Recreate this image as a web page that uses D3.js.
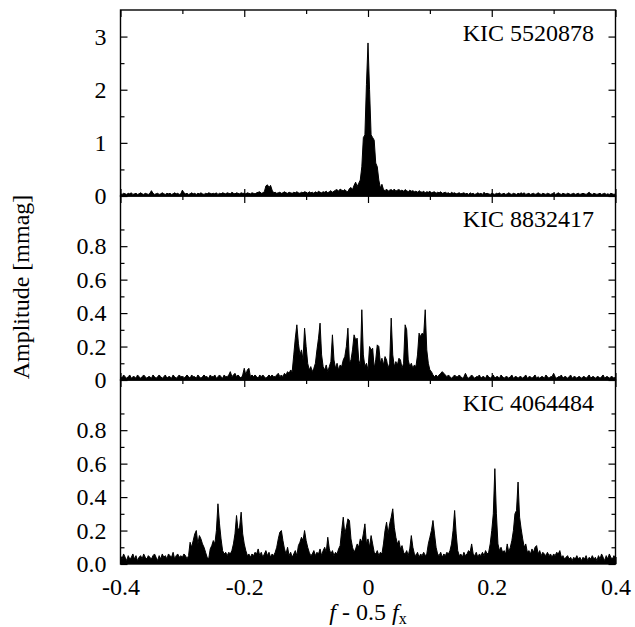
<!DOCTYPE html>
<html>
<head>
<meta charset="utf-8">
<script src="https://cdn.jsdelivr.net/npm/d3@7"></script>
<style>
    body { margin: 0; background: #fff; }
    svg text { font-family: "Liberation Serif", "Times New Roman", serif; }
</style>
</head>
<body>
<div id="chart"></div>
<script>

// Amplitude spectra sampled every 0.0025 from f - 0.5 fx = -0.4 to 0.4 (321 points each).
const freqMin  = -0.4;
const freqStep = 0.0025;

const starNames = ["KIC 5520878", "KIC 8832417", "KIC 4064484"];

const ampKic5520878 = [
    0.04,0.03,0.05,0.04,0.03,0.05,0.04,0.06,0.03,0.04,0.05,0.03,0.04,0.06,0.04,0.03,0.05,0.04,0.03,0.05,
    0.10,0.05,0.03,0.04,0.05,0.03,0.04,0.06,0.04,0.03,0.05,0.04,0.05,0.03,0.04,0.06,0.04,0.05,0.03,0.04,
    0.11,0.06,0.04,0.05,0.03,0.04,0.06,0.04,0.05,0.03,0.05,0.04,0.06,0.04,0.03,0.05,0.04,0.06,0.05,0.04,
    0.05,0.04,0.06,0.03,0.05,0.04,0.06,0.05,0.04,0.06,0.05,0.04,0.07,0.05,0.04,0.06,0.05,0.04,0.06,0.05,
    0.05,0.04,0.06,0.05,0.04,0.06,0.05,0.04,0.06,0.07,0.08,0.05,0.06,0.08,0.19,0.21,0.16,0.20,0.11,0.06,
    0.07,0.05,0.06,0.07,0.05,0.06,0.08,0.06,0.05,0.07,0.06,0.05,0.07,0.06,0.08,0.06,0.05,0.07,0.06,0.08,
    0.07,0.05,0.08,0.06,0.07,0.05,0.08,0.06,0.09,0.07,0.06,0.08,0.07,0.09,0.06,0.08,0.10,0.07,0.09,0.11,
    0.12,0.09,0.13,0.11,0.10,0.12,0.09,0.08,0.14,0.16,0.12,0.20,0.26,0.18,0.24,0.30,0.55,1.10,1.15,2.10,
    2.88,2.00,1.15,1.10,1.05,0.62,0.55,0.30,0.15,0.22,0.12,0.10,0.13,0.09,0.11,0.12,0.10,0.13,0.09,0.11,
    0.12,0.10,0.11,0.09,0.12,0.10,0.08,0.11,0.09,0.10,0.08,0.09,0.07,0.10,0.08,0.07,0.09,0.06,0.08,0.07,
    0.09,0.06,0.07,0.08,0.05,0.07,0.06,0.08,0.05,0.06,0.07,0.05,0.06,0.04,0.07,0.05,0.06,0.04,0.05,0.06,
    0.04,0.05,0.06,0.04,0.05,0.03,0.06,0.04,0.05,0.03,0.04,0.06,0.04,0.05,0.03,0.07,0.04,0.05,0.04,0.03,
    0.05,0.04,0.03,0.05,0.04,0.06,0.03,0.04,0.05,0.03,0.04,0.06,0.04,0.03,0.05,0.04,0.03,0.05,0.04,0.06,
    0.04,0.06,0.03,0.04,0.05,0.03,0.04,0.05,0.03,0.04,0.06,0.04,0.03,0.05,0.04,0.03,0.05,0.04,0.03,0.04,
    0.05,0.03,0.04,0.06,0.04,0.03,0.05,0.04,0.03,0.05,0.04,0.03,0.04,0.05,0.03,0.04,0.05,0.03,0.04,0.05,
    0.04,0.03,0.05,0.07,0.04,0.03,0.05,0.04,0.03,0.04,0.05,0.03,0.04,0.05,0.03,0.04,0.03,0.05,0.04,0.03,
    0.04
];

const ampKic8832417 = [
    0.02,0.01,0.03,0.02,0.01,0.02,0.03,0.01,0.02,0.02,0.01,0.03,0.02,0.01,0.02,0.03,0.02,0.01,0.02,0.02,
    0.01,0.03,0.02,0.01,0.02,0.03,0.02,0.01,0.02,0.03,0.01,0.02,0.02,0.01,0.03,0.02,0.01,0.02,0.03,0.02,
    0.02,0.01,0.02,0.03,0.02,0.01,0.03,0.02,0.02,0.01,0.03,0.02,0.01,0.02,0.03,0.02,0.02,0.01,0.03,0.02,
    0.02,0.03,0.01,0.02,0.03,0.02,0.01,0.03,0.02,0.02,0.03,0.05,0.02,0.03,0.04,0.02,0.03,0.02,0.01,0.03,
    0.07,0.03,0.06,0.07,0.02,0.03,0.02,0.03,0.02,0.01,0.03,0.02,0.03,0.02,0.01,0.02,0.03,0.02,0.03,0.02,
    0.02,0.03,0.04,0.02,0.03,0.02,0.04,0.03,0.05,0.04,0.06,0.05,0.15,0.25,0.33,0.22,0.15,0.18,0.12,0.31,
    0.20,0.10,0.06,0.08,0.05,0.07,0.10,0.18,0.25,0.34,0.15,0.08,0.06,0.09,0.05,0.08,0.11,0.27,0.12,0.07,
    0.10,0.06,0.09,0.08,0.12,0.14,0.20,0.31,0.10,0.12,0.18,0.27,0.24,0.25,0.12,0.09,0.42,0.15,0.08,0.10,
    0.06,0.20,0.18,0.19,0.07,0.12,0.21,0.20,0.10,0.13,0.09,0.14,0.12,0.07,0.10,0.37,0.15,0.08,0.11,0.09,
    0.13,0.12,0.07,0.10,0.33,0.30,0.12,0.08,0.10,0.07,0.09,0.08,0.15,0.28,0.26,0.28,0.27,0.42,0.18,0.10,
    0.06,0.05,0.03,0.02,0.03,0.02,0.03,0.04,0.05,0.04,0.03,0.02,0.03,0.02,0.01,0.02,0.03,0.02,0.02,0.03,
    0.02,0.01,0.02,0.04,0.02,0.01,0.02,0.03,0.02,0.01,0.02,0.02,0.03,0.01,0.02,0.02,0.01,0.03,0.02,0.01,
    0.02,0.03,0.01,0.02,0.02,0.01,0.03,0.02,0.01,0.02,0.02,0.01,0.02,0.03,0.01,0.02,0.02,0.01,0.02,0.02,
    0.01,0.02,0.03,0.01,0.02,0.02,0.01,0.02,0.03,0.01,0.02,0.01,0.02,0.02,0.01,0.03,0.02,0.01,0.02,0.02,
    0.04,0.02,0.01,0.02,0.02,0.03,0.01,0.02,0.02,0.01,0.02,0.03,0.01,0.02,0.02,0.01,0.02,0.02,0.01,0.02,
    0.02,0.01,0.02,0.03,0.01,0.02,0.02,0.01,0.02,0.02,0.01,0.02,0.03,0.01,0.02,0.02,0.01,0.02,0.02,0.01,
    0.02
];

const ampKic4064484 = [
    0.05,0.03,0.06,0.04,0.02,0.05,0.03,0.04,0.06,0.03,0.05,0.02,0.04,0.05,0.03,0.06,0.04,0.03,0.05,0.04,
    0.03,0.05,0.06,0.04,0.02,0.05,0.03,0.06,0.04,0.05,0.03,0.06,0.05,0.04,0.07,0.03,0.05,0.06,0.04,0.05,
    0.04,0.06,0.05,0.03,0.05,0.13,0.10,0.14,0.18,0.20,0.12,0.17,0.15,0.12,0.10,0.07,0.04,0.03,0.09,0.11,
    0.14,0.12,0.20,0.36,0.24,0.15,0.08,0.06,0.07,0.05,0.07,0.06,0.08,0.12,0.18,0.29,0.20,0.22,0.31,0.18,
    0.12,0.08,0.05,0.06,0.04,0.06,0.05,0.07,0.06,0.09,0.05,0.07,0.04,0.06,0.08,0.05,0.07,0.04,0.06,0.05,
    0.07,0.10,0.15,0.19,0.20,0.14,0.09,0.06,0.10,0.05,0.07,0.04,0.06,0.08,0.05,0.11,0.13,0.16,0.14,0.20,
    0.14,0.10,0.07,0.05,0.06,0.08,0.05,0.07,0.06,0.09,0.05,0.08,0.10,0.07,0.16,0.09,0.06,0.08,0.05,0.07,
    0.06,0.09,0.11,0.20,0.28,0.18,0.22,0.27,0.26,0.15,0.10,0.07,0.09,0.12,0.10,0.15,0.13,0.18,0.24,0.12,
    0.15,0.10,0.17,0.12,0.07,0.06,0.08,0.05,0.07,0.06,0.12,0.20,0.25,0.18,0.24,0.28,0.33,0.22,0.16,0.12,
    0.14,0.09,0.11,0.07,0.06,0.08,0.05,0.09,0.17,0.10,0.06,0.05,0.07,0.04,0.06,0.05,0.07,0.05,0.06,0.12,
    0.16,0.20,0.26,0.18,0.10,0.06,0.05,0.07,0.04,0.06,0.05,0.07,0.06,0.08,0.12,0.20,0.32,0.18,0.08,0.05,
    0.06,0.04,0.07,0.05,0.06,0.08,0.07,0.12,0.06,0.05,0.07,0.04,0.06,0.05,0.07,0.05,0.08,0.06,0.07,0.12,
    0.20,0.30,0.57,0.30,0.12,0.08,0.10,0.07,0.08,0.06,0.12,0.07,0.10,0.14,0.20,0.30,0.32,0.49,0.28,0.21,
    0.15,0.10,0.12,0.07,0.08,0.06,0.09,0.07,0.10,0.11,0.06,0.08,0.05,0.07,0.06,0.05,0.07,0.05,0.06,0.04,
    0.06,0.05,0.07,0.06,0.08,0.04,0.05,0.03,0.04,0.05,0.03,0.04,0.02,0.04,0.03,0.05,0.03,0.04,0.02,0.04,
    0.03,0.05,0.02,0.04,0.03,0.05,0.03,0.04,0.02,0.05,0.03,0.06,0.04,0.02,0.05,0.03,0.06,0.04,0.03,0.05,
    0.04
];

const spectra = [ampKic5520878, ampKic8832417, ampKic4064484];

// Axis ticks.
const xTicks       = [-0.4, -0.2, 0, 0.2, 0.4];
const xTickLabels  = ["-0.4", "-0.2", "0", "0.2", "0.4"];
const xMinorTicks  = [-0.3, -0.1, 0.1, 0.3];

const yDomains     = [[0, 3.5], [0, 1.1], [0, 1.1]];
const yTicks       = [[0, 1, 2, 3], [0, 0.2, 0.4, 0.6, 0.8], [0, 0.2, 0.4, 0.6, 0.8]];
const yTickLabels  = [["0", "1", "2", "3"],
                      ["0", "0.2", "0.4", "0.6", "0.8"],
                      ["0.0", "0.2", "0.4", "0.6", "0.8"]];
const yMinorTicks  = [[0.5, 1.5, 2.5], [0.1, 0.3, 0.5, 0.7, 0.9], [0.1, 0.3, 0.5, 0.7, 0.9]];

// Page layout.
const width = 635, height = 627;
const margin = {left: 120.5, right: 19.5};
const panelTops = [10, 196, 380];
const panelBottoms = [196, 380, 564];
const fontSize = 24;
const majorTick = 7, minorTick = 4;

let svg = d3.select("#chart")
    .append("svg")
        .attr("width", width)
        .attr("height", height);

let x = d3.scaleLinear()
    .domain([-0.4, 0.4])
    .range([margin.left, width - margin.right]);

let defs = svg.append("defs");

spectra.forEach((amps, p) => {
    let top = panelTops[p], bottom = panelBottoms[p];

    let y = d3.scaleLinear()
        .domain(yDomains[p])
        .range([bottom, top]);

    let freqs = amps.map((d, i) => freqMin + i * freqStep);

    // Clip the spectrum to the panel box.
    defs.append("clipPath")
        .attr("id", "clip" + p)
      .append("rect")
        .attr("x", margin.left)
        .attr("y", top)
        .attr("width", width - margin.right - margin.left)
        .attr("height", bottom - top);

    let g = svg.append("g").attr("clip-path", "url(#clip" + p + ")");

    let area = d3.area()
        .x((d, i) => x(freqs[i]))
        .y0(y(0))
        .y1(d => y(d));

    let line = d3.line()
        .x((d, i) => x(freqs[i]))
        .y(d => y(d));

    g.append("path")
        .attr("d", area(amps))
        .attr("fill", "#000");

    g.append("path")
        .attr("d", line(amps))
        .attr("fill", "none")
        .attr("stroke", "#000")
        .attr("stroke-width", 1);

    // Inward ticks on all four sides.
    let addAxis = (axis, transform, showLabels) => {
        let a = svg.append("g")
            .attr("transform", transform)
            .call(axis);
        a.attr("font-size", fontSize).attr("font-family", null);
        a.select(".domain").remove();
        a.selectAll(".tick line").attr("stroke", "#000").attr("stroke-width", 1.2);
        a.selectAll(".tick text").attr("fill", "#000");
        if (!showLabels) a.selectAll(".tick text").remove();
        return a;
    };

    let yFmt = d => yTickLabels[p][yTicks[p].indexOf(d)];

    addAxis(d3.axisLeft(y).tickValues(yTicks[p]).tickFormat(yFmt)
                .tickSize(-majorTick).tickPadding(14),
            "translate(" + margin.left + ",0)", true);
    addAxis(d3.axisLeft(y).tickValues(yMinorTicks[p]).tickSize(-minorTick),
            "translate(" + margin.left + ",0)", false);
    addAxis(d3.axisRight(y).tickValues(yTicks[p]).tickSize(-majorTick),
            "translate(" + (width - margin.right) + ",0)", false);
    addAxis(d3.axisRight(y).tickValues(yMinorTicks[p]).tickSize(-minorTick),
            "translate(" + (width - margin.right) + ",0)", false);

    let xFmt = d => xTickLabels[xTicks.indexOf(d)];

    addAxis(d3.axisTop(x).tickValues(xTicks).tickSize(-majorTick),
            "translate(0," + top + ")", false);
    addAxis(d3.axisTop(x).tickValues(xMinorTicks).tickSize(-minorTick),
            "translate(0," + top + ")", false);
    addAxis(d3.axisBottom(x).tickValues(xTicks).tickFormat(xFmt)
                .tickSize(-majorTick).tickPadding(14),
            "translate(0," + bottom + ")", p === spectra.length - 1);
    addAxis(d3.axisBottom(x).tickValues(xMinorTicks).tickSize(-minorTick),
            "translate(0," + bottom + ")", false);

    // Panel frame.
    svg.append("rect")
        .attr("x", margin.left)
        .attr("y", top)
        .attr("width", width - margin.right - margin.left)
        .attr("height", bottom - top)
        .attr("fill", "none")
        .attr("stroke", "#000")
        .attr("stroke-width", 1.4);

    // Star name.
    svg.append("text")
        .attr("x", 594)
        .attr("y", top + 31)
        .attr("text-anchor", "end")
        .attr("font-size", fontSize)
        .text(starNames[p]);
});

// Axis titles.
svg.append("text")
    .attr("transform", "translate(29," + (panelTops[0] + panelBottoms[2]) / 2 + ") rotate(-90)")
    .attr("text-anchor", "middle")
    .attr("font-size", fontSize)
    .text("Amplitude [mmag]");

let xTitle = svg.append("text")
    .attr("x", x(0))
    .attr("y", 620)
    .attr("text-anchor", "middle")
    .attr("font-size", fontSize);
xTitle.append("tspan").attr("font-style", "italic").text("f");
xTitle.append("tspan").text(" - 0.5 ");
xTitle.append("tspan").attr("font-style", "italic").text("f");
xTitle.append("tspan").attr("font-size", 16).attr("dy", 4).text("x");

</script>
</body>
</html>
